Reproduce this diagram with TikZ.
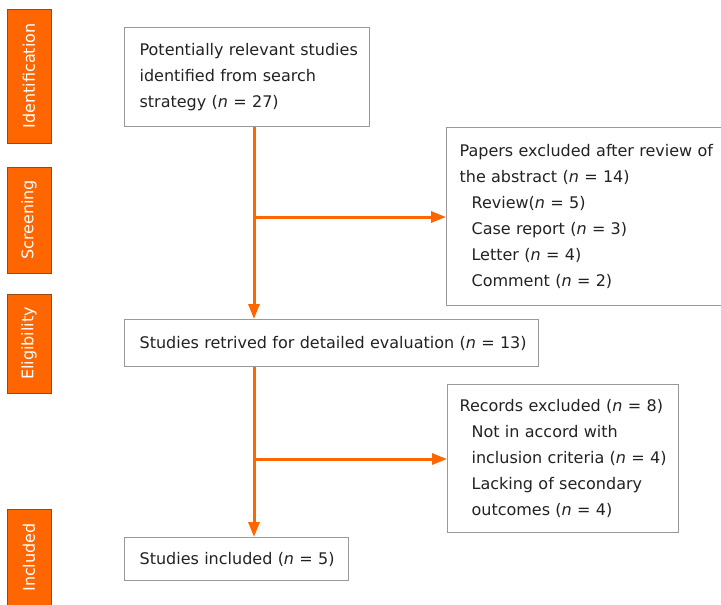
\documentclass[tikz,border=0pt]{standalone}
\usepackage{fontspec}
\setmainfont{DejaVu Sans}
\usetikzlibrary{arrows.meta}
\definecolor{floworange}{HTML}{FF6600}
\definecolor{tabedge}{HTML}{9A4A10}
\definecolor{boxgray}{HTML}{999999}
\definecolor{inkgray}{HTML}{222222}
\newcommand{\flowfont}{\fontsize{16}{26}\selectfont}
\newcommand{\nn}{\textit{n}}

\begin{document}
\begin{tikzpicture}[
    x=1pt, y=-1pt,
    flowbox/.style={draw=boxgray, line width=1.2pt, anchor=north west,
                    align=left, font=\flowfont, text=inkgray,
                    inner xsep=15pt, inner ysep=0pt},
    stagetab/.style={draw=tabedge, fill=floworange, line width=1pt,
                     rotate=90, minimum height=44pt, inner sep=0pt,
                     font=\flowfont, text=white},
    arrow/.style={-{Triangle[length=15pt,width=11pt]}, line width=3pt,
                  draw=floworange},
]
  \useasboundingbox (0,0) rectangle (721,605);

  % Stage tabs
  \node[stagetab,minimum width=134pt] (tabIdent) at (29,76) {Identification};
  \node[stagetab,minimum width=106pt] (tabScreen) at (29,220) {Screening};
  \node[stagetab,minimum width=99pt] (tabElig) at (29,343.5) {Eligibility};
  \node[stagetab,minimum width=97pt] (tabIncl) at (29,557.5) {Included};

  % Flow nodes
  \node[flowbox,text width=215pt,minimum height=99pt] (ident) at (124,27)
    {\mbox{Potentially relevant studies}\\identified from search\\strategy (\nn{} = 27)};
  \node[flowbox,text width=268pt,minimum height=178pt,inner xsep=13pt] (abstractExcl) at (446,127)
    {\mbox{Papers excluded after review of}\\the abstract (\nn{} = 14)\\
     \hspace*{12pt}Review(\nn{} = 5)\\
     \hspace*{12pt}Case report (\nn{} = 3)\\
     \hspace*{12pt}Letter (\nn{} = 4)\\
     \hspace*{12pt}Comment (\nn{} = 2)};
  \node[flowbox,text width=384pt,minimum height=47pt] (retrieved) at (124,319)
    {\mbox{Studies retrived for detailed evaluation (\nn{} = 13)}};
  \node[flowbox,text width=207pt,minimum height=148pt,inner xsep=12pt] (recordsExcl) at (447,384)
    {\mbox{Records excluded (\nn{} = 8)}\\
     \hspace*{12pt}Not in accord with\\
     \mbox{\hspace*{12pt}inclusion criteria (\nn{} = 4)}\\
     \hspace*{12pt}Lacking of secondary\\
     \hspace*{12pt}outcomes (\nn{} = 4)};
  \node[flowbox,text width=194pt,minimum height=43pt] (included) at (124,537)
    {\mbox{Studies included (\nn{} = 5)}};

  % Arrows
  \coordinate (forkA) at (254,217);
  \coordinate (forkB) at (254,459);
  \draw[arrow] (ident.south -| forkA) -- (retrieved.north -| forkA);
  \draw[arrow] (forkA) -- (forkA -| abstractExcl.west);
  \draw[arrow] (retrieved.south -| forkB) -- (included.north -| forkB);
  \draw[arrow] (forkB) -- (forkB -| recordsExcl.west);
\end{tikzpicture}
\end{document}
